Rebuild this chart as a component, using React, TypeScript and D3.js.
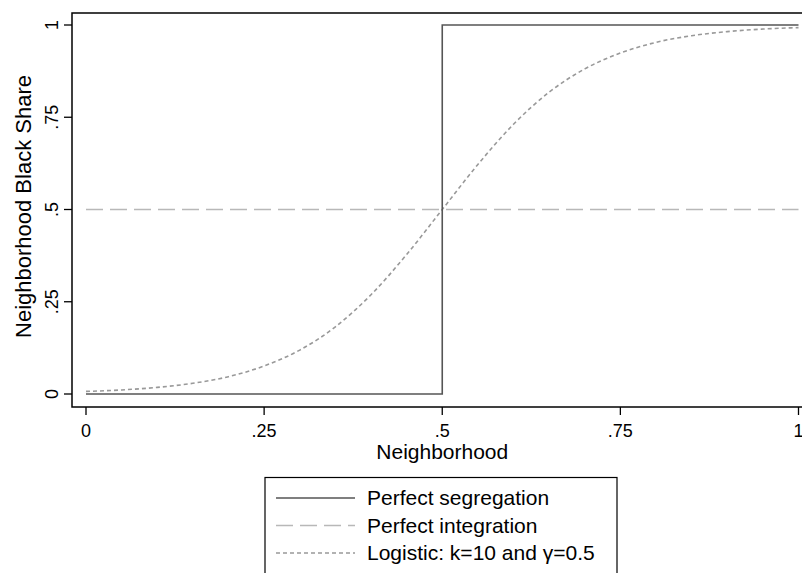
import React from "react";
import * as d3 from "d3";

const xTicks = [0, 0.25, 0.5, 0.75, 1];
const xTickLabels = ["0", ".25", ".5", ".75", "1"];
const yTicks = [0, 0.25, 0.5, 0.75, 1];
const yTickLabels = ["0", ".25", ".5", ".75", "1"];

const segX = [0, 0.5, 0.5, 1];
const segY = [0, 0, 1, 1];

const integX = [0, 1];
const integY = [0.5, 0.5];

const logitX = [0, 0.05, 0.1, 0.15, 0.2, 0.25, 0.3, 0.35, 0.4, 0.45, 0.5, 0.55, 0.6, 0.65, 0.7, 0.75, 0.8, 0.85, 0.9, 0.95, 1];
const logitY = [0.007, 0.011, 0.018, 0.029, 0.047, 0.076, 0.119, 0.182, 0.269, 0.378, 0.5, 0.622, 0.731, 0.818, 0.881, 0.924, 0.953, 0.971, 0.982, 0.989, 0.993];

const legendLabels = ["Perfect segregation", "Perfect integration", "Logistic: k=10 and γ=0.5"];

const W = 802;
const H = 573;
const FONT = "'Liberation Sans', Arial, Helvetica, sans-serif";

export default function App() {
  const x = d3.scaleLinear().domain([0, 1]).range([86, 798.5]);
  const y = d3.scaleLinear().domain([0, 1]).range([394, 25]);
  const line = d3.line<[number, number]>().x((d) => x(d[0])).y((d) => y(d[1]));
  const curve = d3
    .line<[number, number]>()
    .x((d) => x(d[0]))
    .y((d) => y(d[1]))
    .curve(d3.curveMonotoneX);

  const seg = segX.map((v, i) => [v, segY[i]] as [number, number]);
  const integ = integX.map((v, i) => [v, integY[i]] as [number, number]);
  const logit = logitX.map((v, i) => [v, logitY[i]] as [number, number]);

  const frameL = 72, frameT = 13, frameB = 407, frameR = 803;

  const styles = [
    { stroke: "#555555", dash: undefined as string | undefined, w: 1.6 },
    { stroke: "#b8b8b8", dash: "17 7", w: 1.6 },
    { stroke: "#999999", dash: "4 3", w: 1.6 },
  ];

  return (
    <svg
      width={W}
      height={H}
      style={{ position: "absolute", left: 0, top: 0, background: "#fff" }}
      fontFamily={FONT}
    >
      <rect x={0} y={0} width={W} height={H} fill="#fff" />
      {/* data */}
      <path d={line(integ) || ""} fill="none" stroke={styles[1].stroke} strokeWidth={styles[1].w} strokeDasharray={styles[1].dash} />
      <path d={curve(logit) || ""} fill="none" stroke={styles[2].stroke} strokeWidth={styles[2].w} strokeDasharray={styles[2].dash} />
      <path d={line(seg) || ""} fill="none" stroke={styles[0].stroke} strokeWidth={styles[0].w} />
      {/* frame */}
      <rect x={frameL} y={frameT} width={frameR - frameL} height={frameB - frameT} fill="none" stroke="#000" strokeWidth={1.5} />
      {/* y axis */}
      {yTicks.map((t, i) => (
        <g key={"y" + i}>
          <line x1={frameL - 8} x2={frameL} y1={y(t)} y2={y(t)} stroke="#000" strokeWidth={1.3} />
          <text
            transform={`translate(${58},${y(t)}) rotate(-90)`}
            textAnchor="middle"
            fontSize={18}
            fill="#000"
          >
            {yTickLabels[i]}
          </text>
        </g>
      ))}
      <text transform={`translate(31,${y(0.5) - 3}) rotate(-90)`} textAnchor="middle" fontSize={22} fill="#000">
        Neighborhood Black Share
      </text>
      {/* x axis */}
      {xTicks.map((t, i) => (
        <g key={"x" + i}>
          <line x1={x(t)} x2={x(t)} y1={frameB} y2={frameB + 8} stroke="#000" strokeWidth={1.3} />
          <text x={x(t)} y={437} textAnchor="middle" fontSize={18} fill="#000">
            {xTickLabels[i]}
          </text>
        </g>
      ))}
      <text x={x(0.5)} y={459} textAnchor="middle" fontSize={21} fill="#000">
        Neighborhood
      </text>
      {/* legend */}
      <rect x={265} y={477.5} width={352} height={110} fill="#fff" stroke="#000" strokeWidth={1.2} />
      {legendLabels.map((lab, i) => {
        const yy = 505 + i * 27.5;
        const s = styles[i];
        return (
          <g key={"l" + i}>
            <line x1={276} x2={355} y1={yy - 7} y2={yy - 7} stroke={s.stroke} strokeWidth={s.w} strokeDasharray={s.dash} />
            <text x={367} y={yy} fontSize={21} fill="#000">
              {lab}
            </text>
          </g>
        );
      })}
    </svg>
  );
}
